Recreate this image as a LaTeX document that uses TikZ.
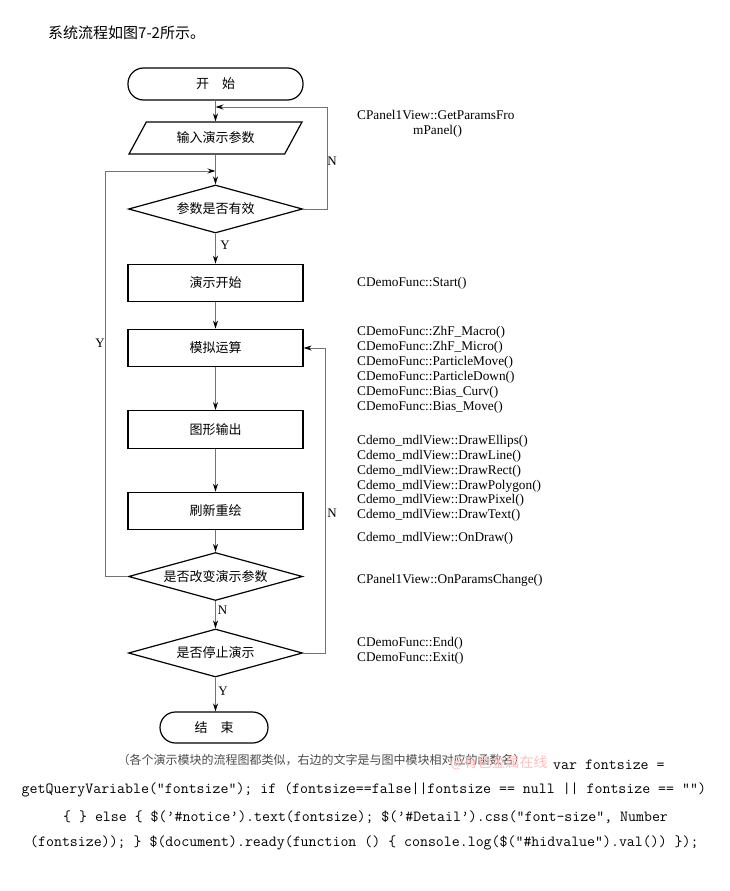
\documentclass[tikz,border=0pt]{standalone}
\usepackage{fontspec}
\setmainfont{Liberation Serif}
\newfontfamily\cjk{Noto Sans CJK SC}
\usetikzlibrary{shapes.geometric,arrows.meta,calc}
\tikzset{
  shapebase/.style={draw=black, line width=1.2pt, inner sep=0pt, font=\cjk\fontsize{13}{13}\selectfont},
  term/.style={shapebase, rectangle, rounded corners=15.5pt, minimum height=32pt},
  iobox/.style={shapebase, trapezium, trapezium left angle=51, trapezium right angle=129,
     trapezium stretches=true, minimum width=174pt, minimum height=32pt},
  proc/.style={shapebase, rectangle, minimum width=175pt, minimum height=37.5pt},
  decide/.style={shapebase, diamond, aspect=3.6, minimum width=174pt, minimum height=48pt},
  conn/.style={draw=black!55, line width=0.9pt, -{Stealth[length=8pt,width=5pt,color=black]}},
  lbl/.style={font=\fontsize{13}{13}\selectfont, inner sep=0pt},
  func/.style={anchor=west, font=\fontsize{13.3}{13.3}\selectfont, inner sep=0pt},
  code/.style={anchor=west, font=\ttfamily\fontsize{15.45}{15.45}\selectfont, inner sep=0pt},
  titletext/.style={anchor=west, font=\cjk\fontsize{15}{15}\selectfont, inner sep=0pt},
  captext/.style={font=\cjk\fontsize{12}{12}\selectfont, text=black!70, inner sep=0pt},
  wmark/.style={font=\cjk\fontsize{14}{14}\selectfont, text=red!25, inner sep=0pt},
}
\begin{document}
\begin{tikzpicture}[x=1pt,y=-1pt]
\useasboundingbox (0,0) rectangle (730,891);
\fill[white] (0,0) rectangle (730,891);

\node[titletext] (title) at (48,33) {系统流程如图7-2所示。};

% flowchart
\node[term, minimum width=175pt] (start) at (215.5,84) {开　始};
\node[iobox] (inp) at (215.5,138) {输入演示参数};
\node[decide] (d1) at (215.5,209) {参数是否有效};
\node[proc] (r1) at (215.5,283) {演示开始};
\node[proc] (r2) at (215.5,348) {模拟运算};
\node[proc] (r3) at (215.5,429.5) {图形输出};
\node[proc] (r4) at (215.5,511) {刷新重绘};
\node[decide] (d3) at (215.5,576.5) {是否改变演示参数};
\node[decide] (d4) at (215.5,653) {是否停止演示};
\node[term, minimum width=108pt, minimum height=31pt] (end) at (214,727.5) {结　束};

\coordinate (nTop) at (215.5,107);
\coordinate (yIn) at (215.5,171);

\draw[conn] (start.south) -- (inp.north);
\draw[conn] (inp.south) -- (d1.north);
\draw[conn] (d1.south) -- (r1.north);
\draw[conn] (r1.south) -- (r2.north);
\draw[conn] (r2.south) -- (r3.north);
\draw[conn] (r3.south) -- (r4.north);
\draw[conn] (r4.south) -- (d3.north);
\draw[conn] (d3.south) -- (d4.north);
\draw[conn] (d4.south) -- (d4.south |- end.north);
\draw[conn] (d1.east) -- ++(24,0) |- (nTop);
\draw[conn] (d3.west) -- ++(-22,0) |- (yIn);
\draw[conn] (d4.east) -- ++(22.5,0) |- (r2.east);

\node[lbl] (lN1) at (332,161.5) {N};
\node[lbl] (lY1) at (225,245) {Y};
\node[lbl] (lY2) at (100,343) {Y};
\node[lbl] (lN2) at (332,513) {N};
\node[lbl] (lN3) at (222.5,610) {N};
\node[lbl] (lY3) at (223,691) {Y};

% function names
\node[func] (fa1) at (357,114.5) {CPanel1View::GetParamsFro};
\node[func] (fa2) at (413,131) {mPanel()};
\node[func] (fb) at (357,283) {CDemoFunc::Start()};
\node[func] (fc1) at (357,332.5) {CDemoFunc::ZhF\_Macro()};
\node[func] (fc2) at (357,347.5) {CDemoFunc::ZhF\_Micro()};
\node[func] (fc3) at (357,362.5) {CDemoFunc::ParticleMove()};
\node[func] (fc4) at (357,377.5) {CDemoFunc::ParticleDown()};
\node[func] (fc5) at (357,392.5) {CDemoFunc::Bias\_Curv()};
\node[func] (fc6) at (357,407.5) {CDemoFunc::Bias\_Move()};
\node[func] (fd1) at (357,441) {Cdemo\_mdlView::DrawEllips()};
\node[func] (fd2) at (357,456) {Cdemo\_mdlView::DrawLine()};
\node[func] (fd3) at (357,471) {Cdemo\_mdlView::DrawRect()};
\node[func] (fd4) at (357,486) {Cdemo\_mdlView::DrawPolygon()};
\node[func] (fd5) at (357,500.5) {Cdemo\_mdlView::DrawPixel()};
\node[func] (fd6) at (357,515) {Cdemo\_mdlView::DrawText()};
\node[func] (fe) at (357,538) {Cdemo\_mdlView::OnDraw()};
\node[func] (ff) at (357,580) {CPanel1View::OnParamsChange()};
\node[func] (fg1) at (357,643) {CDemoFunc::End()};
\node[func] (fg2) at (357,658.5) {CDemoFunc::Exit()};

% caption and code
\node[captext] (cap) at (321.5,760) {（各个演示模块的流程图都类似，右边的文字是与图中模块相对应的函数名）};
\node[wmark] (wm) at (499,763) {@有色金属在线};
\node[code] (c1) at (553,765) {var fontsize =};
\node[code] (c2) at (21.5,790) {getQueryVariable(“fontsize”); if (fontsize==false||fontsize == null || fontsize == “”)};
\node[code] (c3) at (63,817) {\{ \} else \{ \$(’\#notice’).text(fontsize); \$(’\#Detail’).css(“font-size”, Number};
\node[code] (c4) at (30,843) {(fontsize)); \} \$(document).ready(function () \{ console.log(\$(“\#hidvalue”).val()) \});};
\end{tikzpicture}
\end{document}
